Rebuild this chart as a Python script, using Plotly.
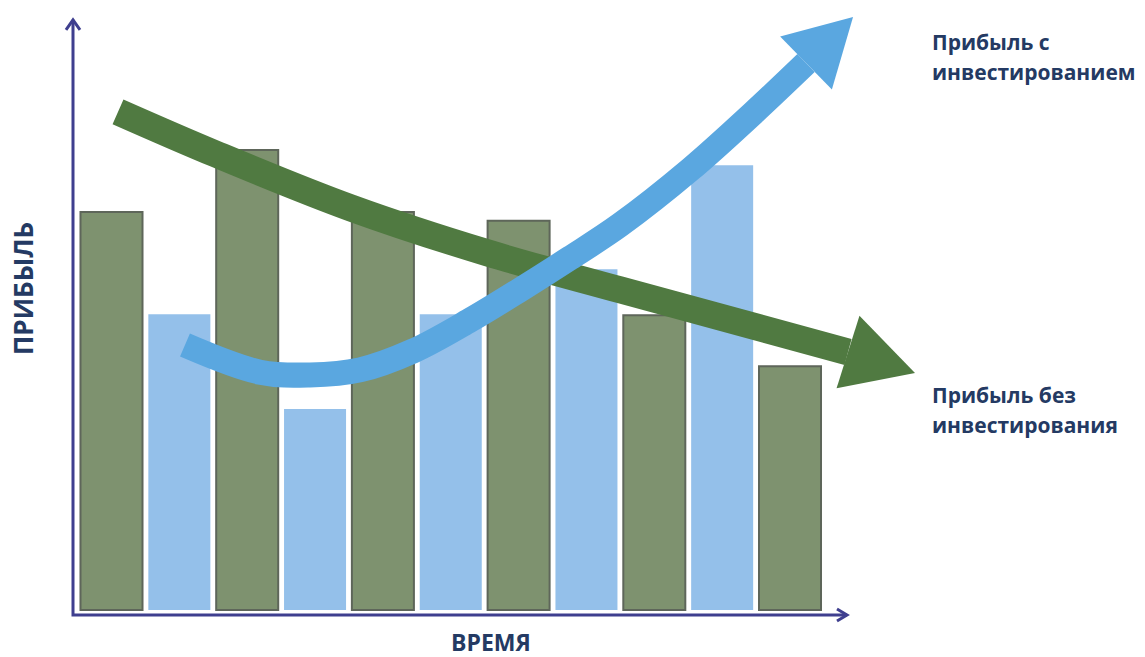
import plotly.graph_objects as go

# ---------------- data ----------------
# periods (time) - alternating: without investment (odd) / with investment (even)
periods_no_invest = [1, 3, 5, 7, 9, 11]
profit_no_invest = [86.5, 100.0, 86.5, 84.6, 64.1, 53.0]
periods_invest = [2, 4, 6, 8, 10]
profit_invest = [64.3, 43.7, 64.3, 74.1, 96.7]

# illustrative trend curves (time, profit)
trend_no_invest_x = [1.096, 2.540, 4.530, 6.549, 8.494, 11.855]
trend_no_invest_y = [108.3, 99.1, 87.4, 77.6, 69.6, 56.1]
trend_no_invest_tip = (12.842, 51.5)

trend_invest_x = [2.083, 3.189, 3.926, 4.662, 5.444, 6.284, 7.021, 7.758, 8.494, 9.526, 10.455, 11.236]
trend_invest_y = [57.6, 51.7, 51.1, 52.2, 56.3, 63.0, 69.6, 76.5, 83.7, 95.7, 108.0, 118.9]
trend_invest_tip = (11.929, 128.9)

label_y = "ПРИБЫЛЬ"
label_x = "ВРЕМЯ"
label_invest = ["Прибыль с", "инвестированием"]
label_no_invest = ["Прибыль без", "инвестирования"]

# ---------------- layout constants ----------------
W, H = 1145, 657
X_RANGE = [-0.6433, 16.232]
Y_RANGE = [-10.217, 132.609]
SX = W / (X_RANGE[1] - X_RANGE[0])
SY = H / (Y_RANGE[1] - Y_RANGE[0])

AXIS_X0, AXIS_X1 = 0.4326, 11.84
AXIS_Y0, AXIS_Y1 = -1.087, 128.3

GREEN_BAR = "#7E926F"
GREEN_BAR_LINE = "#5E665A"
BLUE_BAR = "#94C0EA"
GREEN_TREND = "#507A41"
BLUE_TREND = "#5AA7E0"
AXIS_COL = "#3F3F8F"
TEXT_COL = "#243A63"
FONT = "Open Sans"


def to_px(x, y):
    return (x - X_RANGE[0]) * SX, (Y_RANGE[1] - y) * SY


def to_data(px, py):
    return px / SX + X_RANGE[0], Y_RANGE[1] - py / SY


def arrowhead(base, tip, half):
    bx, by = to_px(*base)
    tx, ty = to_px(*tip)
    dx, dy = tx - bx, ty - by
    n = (dx * dx + dy * dy) ** 0.5
    px_, py_ = -dy / n * half, dx / n * half
    pts = [(bx + px_, by + py_), (tx, ty), (bx - px_, by - py_), (bx + px_, by + py_)]
    d = [to_data(a, b) for a, b in pts]
    return [p[0] for p in d], [p[1] for p in d]


fig = go.Figure()

fig.add_trace(go.Bar(x=periods_no_invest, y=profit_no_invest, width=0.914,
                     marker=dict(color=GREEN_BAR, line=dict(color=GREEN_BAR_LINE, width=2))))
fig.add_trace(go.Bar(x=periods_invest, y=profit_invest, width=0.914,
                     marker=dict(color=BLUE_BAR, line=dict(width=0))))

# axes with arrow chevrons
fig.add_trace(go.Scatter(x=[AXIS_X0, AXIS_X0, AXIS_X1], y=[AXIS_Y1, AXIS_Y0, AXIS_Y0], mode="lines",
                         line=dict(color=AXIS_COL, width=3)))
cx1, cy1 = to_px(AXIS_X0, AXIS_Y1)
chev_y = [to_data(cx1 - 7, cy1 + 10), to_data(cx1, cy1), to_data(cx1 + 7, cy1 + 10)]
fig.add_trace(go.Scatter(x=[p[0] for p in chev_y], y=[p[1] for p in chev_y], mode="lines",
                         line=dict(color=AXIS_COL, width=3)))
cx2, cy2 = to_px(AXIS_X1, AXIS_Y0)
chev_x = [to_data(cx2 - 10, cy2 - 6), to_data(cx2, cy2), to_data(cx2 - 10, cy2 + 6)]
fig.add_trace(go.Scatter(x=[p[0] for p in chev_x], y=[p[1] for p in chev_x], mode="lines",
                         line=dict(color=AXIS_COL, width=3)))

# trend without investment (green)
fig.add_trace(go.Scatter(x=trend_no_invest_x, y=trend_no_invest_y, mode="lines",
                         line=dict(color=GREEN_TREND, width=27, shape="spline", smoothing=1)))
hx, hy = arrowhead((trend_no_invest_x[-1], trend_no_invest_y[-1]), trend_no_invest_tip, 38)
fig.add_trace(go.Scatter(x=hx, y=hy, mode="lines", fill="toself", fillcolor=GREEN_TREND,
                         line=dict(width=0, color=GREEN_TREND)))

# trend with investment (blue)
fig.add_trace(go.Scatter(x=trend_invest_x, y=trend_invest_y, mode="lines",
                         line=dict(color=BLUE_TREND, width=25, shape="spline")))
hx, hy = arrowhead((trend_invest_x[-1], trend_invest_y[-1]), trend_invest_tip, 37)
fig.add_trace(go.Scatter(x=hx, y=hy, mode="lines", fill="toself", fillcolor=BLUE_TREND,
                         line=dict(width=0, color=BLUE_TREND)))

annotations = [
    dict(text=f"<b>{label_y}</b>", x=23 / W, y=1 - 289 / H, textangle=-90,
         font=dict(size=26, color=TEXT_COL, family=FONT)),
    dict(text=f"<b>{label_x}</b>", x=491 / W, y=1 - 642 / H,
         font=dict(size=23, color=TEXT_COL, family=FONT)),
    dict(text=f"<b>{label_invest[0]}</b>", x=930 / W, y=1 - 42 / H, xanchor="left",
         font=dict(size=21, color=TEXT_COL, family=FONT)),
    dict(text=f"<b>{label_invest[1]}</b>", x=930 / W, y=1 - 72 / H, xanchor="left",
         font=dict(size=21, color=TEXT_COL, family=FONT)),
    dict(text=f"<b>{label_no_invest[0]}</b>", x=930 / W, y=1 - 395 / H, xanchor="left",
         font=dict(size=21, color=TEXT_COL, family=FONT)),
    dict(text=f"<b>{label_no_invest[1]}</b>", x=930 / W, y=1 - 425 / H, xanchor="left",
         font=dict(size=21, color=TEXT_COL, family=FONT)),
]
for a in annotations:
    a.update(xref="paper", yref="paper", showarrow=False, yanchor="middle")
    a.setdefault("xanchor", "center")

fig.update_layout(
    width=W, height=H, margin=dict(l=0, r=0, t=0, b=0),
    paper_bgcolor="white", plot_bgcolor="white",
    showlegend=False, barmode="overlay",
    xaxis=dict(range=X_RANGE, visible=False, fixedrange=True),
    yaxis=dict(range=Y_RANGE, visible=False, fixedrange=True),
    annotations=annotations,
)

fig.write_html("out.html")
